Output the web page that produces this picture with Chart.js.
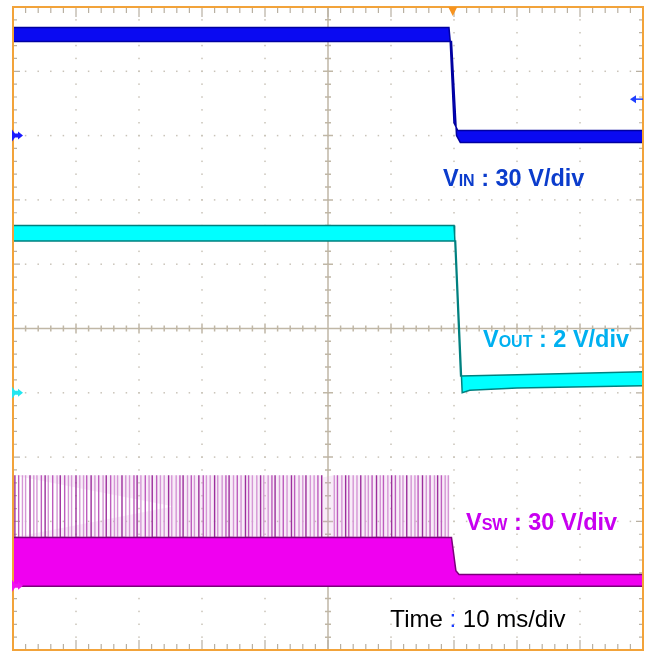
<!DOCTYPE html>
<html>
<head>
<meta charset="utf-8">
<script src="https://cdn.jsdelivr.net/npm/chart.js@4.4.1/dist/chart.umd.min.js"></script>
<style>
  html, body { margin: 0; padding: 0; background: #fff; }
  #wrap { width: 650px; height: 651px; position: relative; }
</style>
</head>
<body>
<div id="wrap"><canvas id="scope"></canvas></div>
<script>
// time axis: 10 ms/div, 10 divisions
const TIME_MIN = 0;
const TIME_MAX = 100;

// channel settings (ground marker position in divisions from centre, volts per division)
const VIN_GND = 3, VIN_VDIV = 30;
const VOUT_GND = -1, VOUT_VDIV = 2;
const VSW_GND = -4, VSW_VDIV = 30;

// trigger
const TRIG_T = 69.8;      // ms
const TRIG_LEVEL = 17;    // V on VIN

// VIN trace outline (upper edge left->right, then lower edge right->left)
const vinT = [-1, 69.2, 69.4, 70.0, 70.6, 101, 101, 71.0, 70.4, 69.6, -1];
const vinV = [50.4, 50.4, 44.0, 6.0, 2.4, 2.4, -3.2, -3.2, 0.0, 43.9, 43.9];

// VOUT trace outline
const voutT = [-1, 70.0, 70.1, 71.05, 80, 101, 101, 80, 72.5, 71.3, 70.25, -1];
const voutV = [5.20, 5.20, 4.90, 0.52, 0.56, 0.66, 0.22, 0.15, 0.08, 0.0, 4.72, 4.72];

// VSW trace outline (switching band)
const vswT = [-1, 69.6, 70.3, 70.8, 101, 101, -1];
const vswV = [22.5, 22.5, 7.0, 5.2, 5.2, -0.3, -0.3];

// VSW ringing spikes above the band
const SPIKE_BASE = 22.5;
const SPIKE_TOP = 51.5;
const spikeT = [0.3, 0.9, 1.5, 2.0, 2.7, 3.3, 3.8, 4.5, 5.1, 5.6, 6.3, 7.0, 7.5, 8.2, 8.8, 9.3,
  10.0, 10.6, 11.2, 11.7, 12.4, 13.0, 13.6, 14.3, 14.8, 15.5, 16.1, 16.6, 17.3, 17.9, 18.5, 19.2,
  19.7, 20.3, 21.0, 21.6, 22.1, 22.8, 23.4, 24.0, 24.7, 25.2, 25.9, 26.5, 27.0, 27.7, 28.3, 28.8,
  29.5, 30.2, 30.7, 31.3, 32.0, 32.5, 33.2, 33.8, 34.3, 35.0, 35.6, 36.2, 36.9, 37.4, 38.0, 38.7,
  39.3, 39.8, 40.5, 41.1, 41.6, 42.3, 42.9, 43.5, 44.2, 44.7, 45.4, 46.0, 46.5, 47.2, 47.8, 48.4,
  49.0, 51.0, 51.5, 52.2, 52.8, 53.3, 54.0, 54.6, 55.2, 55.9, 56.4, 57.0, 57.7, 58.3, 58.8, 59.5,
  60.1, 60.7, 61.4, 61.9, 62.5, 63.2, 63.8, 64.3, 65.0, 65.6, 66.2, 66.9, 67.4, 68.0, 68.6, 69.1];

// faint haze behind the spike bursts
const hazeT = [0, 49.2, 49.2, 0, 50.9, 69.3, 69.3, 50.9];
const hazeV = [SPIKE_BASE, SPIKE_BASE, SPIKE_TOP, SPIKE_TOP, SPIKE_BASE, SPIKE_BASE, SPIKE_TOP, SPIKE_TOP];

const toDiv = (v, gnd, vdiv) => gnd + v / vdiv;
const outline = (ts, vs, gnd, vdiv) => ts.map((t, i) => ({ x: t, y: toDiv(vs[i], gnd, vdiv) }));

const spikePts = [];
spikeT.forEach(t => {
  spikePts.push({ x: t, y: toDiv(SPIKE_BASE, VSW_GND, VSW_VDIV) });
  spikePts.push({ x: t, y: toDiv(SPIKE_TOP, VSW_GND, VSW_VDIV) });
  spikePts.push({ x: t, y: toDiv(SPIKE_BASE, VSW_GND, VSW_VDIV) });
});
const spikeShade = (k) => (k % 4 === 0 ? '#9c2f9c' : k % 3 === 1 ? '#bd5cbd' : '#d596d5');

const labels = [
  { t: 68.25, d: 2.22, color: '#0b3ccc', parts: [['V', 'bold 23.5px'], ['IN', 'bold 16px'], [' : 30 V/div', 'bold 23.5px']] },
  { t: 74.6, d: -0.29, color: '#00b0f0', parts: [['V', 'bold 23.5px'], ['OUT', 'bold 16px'], [' : 2 V/div', 'bold 23.5px']] },
  { t: 71.9, d: -3.13, color: '#c800f0', parts: [['V', 'bold 23.5px'], ['SW', 'bold 16px'], [' : 30 V/div', 'bold 23.5px']] },
  { t: 59.9, d: -4.64, color: '#000000', parts: [['Time ', '24px'], [':', '24px', '#1a3cff'], [' 10 ms/div', '24px']] },
];

const FONT = '"Liberation Sans", Arial, sans-serif';

const scopeScreen = {
  id: 'scopeScreen',
  beforeDatasetsDraw(chart) {
    const { ctx, chartArea: a, scales: { x, y } } = chart;
    ctx.save();
    // dotted graticule
    ctx.fillStyle = '#c9c3b8';
    for (let i = 1; i < 10; i++) {
      if (i === 5) continue;
      const px = x.getPixelForValue(i * 10);
      for (let j = 1; j < 50; j++) {
        const py = y.getPixelForValue(-5 + j * 0.2);
        ctx.fillRect(px - 0.75, py - 0.75, 1.5, 1.5);
      }
    }
    for (let i = -4; i <= 4; i++) {
      if (i === 0) continue;
      const py = y.getPixelForValue(i);
      for (let j = 1; j < 50; j++) {
        const px = x.getPixelForValue(j * 2);
        ctx.fillRect(px - 0.75, py - 0.75, 1.5, 1.5);
      }
    }
    // centre cross with ticks
    const cx = x.getPixelForValue(50), cy = y.getPixelForValue(0);
    ctx.strokeStyle = '#c0b7a6';
    ctx.lineWidth = 1.5;
    ctx.beginPath();
    ctx.moveTo(cx, a.top); ctx.lineTo(cx, a.bottom);
    ctx.moveTo(a.left, cy); ctx.lineTo(a.right, cy);
    for (let j = 1; j < 50; j++) {
      const len = j % 5 === 0 ? 5 : 3;
      const px = x.getPixelForValue(j * 2);
      ctx.moveTo(px, cy - len); ctx.lineTo(px, cy + len);
      const py = y.getPixelForValue(-5 + j * 0.2);
      ctx.moveTo(cx - len, py); ctx.lineTo(cx + len, py);
    }
    ctx.stroke();
    // ticks along the frame
    ctx.strokeStyle = '#b8b0a2';
    ctx.lineWidth = 1.2;
    ctx.beginPath();
    for (let j = 1; j < 50; j++) {
      const px = x.getPixelForValue(j * 2);
      const lx = j % 5 === 0 ? 10 : 6;
      ctx.moveTo(px, a.top); ctx.lineTo(px, a.top + lx);
      ctx.moveTo(px, a.bottom); ctx.lineTo(px, a.bottom - lx);
      const py = y.getPixelForValue(-5 + j * 0.2);
      const ly = j % 5 === 0 ? 7 : 4;
      ctx.moveTo(a.left, py); ctx.lineTo(a.left + ly, py);
      ctx.moveTo(a.right, py); ctx.lineTo(a.right - ly, py);
    }
    ctx.stroke();
    ctx.restore();
  },
  afterDatasetsDraw(chart) {
    const { ctx, chartArea: a, scales: { x, y } } = chart;
    ctx.save();
    // orange frame
    ctx.strokeStyle = '#f2a33a';
    ctx.lineWidth = 2;
    ctx.strokeRect(a.left, a.top, a.right - a.left, a.bottom - a.top);

    // ground markers
    const marker = (gnd, color) => {
      const py = y.getPixelForValue(gnd), l = a.left;
      ctx.fillStyle = color;
      ctx.beginPath();
      ctx.moveTo(l - 1, py - 6); ctx.lineTo(l + 2, py - 2); ctx.lineTo(l + 5, py - 2);
      ctx.lineTo(l + 5, py - 4); ctx.lineTo(l + 10, py); ctx.lineTo(l + 5, py + 4);
      ctx.lineTo(l + 5, py + 2); ctx.lineTo(l + 2, py + 2); ctx.lineTo(l - 1, py + 6);
      ctx.closePath();
      ctx.fill();
    };
    marker(VIN_GND, '#1a1aff');
    marker(VOUT_GND, '#22e6f0');
    marker(VSW_GND, '#f010f0');

    // trigger level arrow (right side)
    const ty = y.getPixelForValue(toDiv(TRIG_LEVEL, VIN_GND, VIN_VDIV));
    ctx.fillStyle = '#2040ff';
    ctx.strokeStyle = '#2040ff';
    ctx.lineWidth = 1.5;
    ctx.beginPath();
    ctx.moveTo(a.right - 8, ty); ctx.lineTo(a.right, ty);
    ctx.stroke();
    ctx.beginPath();
    ctx.moveTo(a.right - 13, ty); ctx.lineTo(a.right - 7, ty - 4); ctx.lineTo(a.right - 7, ty + 4);
    ctx.closePath();
    ctx.fill();

    // trigger time marker (top)
    const tx = x.getPixelForValue(TRIG_T);
    ctx.fillStyle = '#f7931e';
    ctx.beginPath();
    ctx.moveTo(tx - 4.5, a.top); ctx.lineTo(tx + 4.5, a.top); ctx.lineTo(tx, a.top + 9);
    ctx.closePath();
    ctx.fill();

    // channel / timebase labels
    ctx.textBaseline = 'alphabetic';
    ctx.textAlign = 'left';
    labels.forEach(lb => {
      let px = x.getPixelForValue(lb.t);
      const py = y.getPixelForValue(lb.d);
      lb.parts.forEach(([txt, f, c]) => {
        ctx.font = f + ' ' + FONT;
        ctx.fillStyle = c || lb.color;
        ctx.fillText(txt, px, py);
        px += ctx.measureText(txt).width;
      });
    });
    ctx.restore();
  }
};

const trace = (data, fill, edge, order) => ({
  data, backgroundColor: fill, borderColor: edge, borderWidth: 1.5,
  fill: 'shape', pointRadius: 0, tension: 0, order
});

new Chart(document.getElementById('scope'), {
  type: 'line',
  data: {
    datasets: [
      trace(outline(vinT, vinV, VIN_GND, VIN_VDIV), '#0a0af2', '#0000a0', 1),
      trace(outline(voutT, voutV, VOUT_GND, VOUT_VDIV), '#00ffff', '#00807f', 1),
      trace(outline(vswT, vswV, VSW_GND, VSW_VDIV), '#f000f0', '#7a007a', 1),
      {
        data: spikePts, borderWidth: 1.4, pointRadius: 0, tension: 0, fill: false, order: 5,
        borderColor: '#d596d5',
        segment: { borderColor: c => spikeShade(Math.floor(c.p0DataIndex / 3)) }
      },
      {
        data: outline(hazeT, hazeV, VSW_GND, VSW_VDIV), backgroundColor: 'rgba(215,150,215,0.18)',
        borderWidth: 0, borderColor: 'rgba(0,0,0,0)', fill: 'shape', pointRadius: 0, tension: 0, order: 6
      }
    ]
  },
  options: {
    responsive: true,
    maintainAspectRatio: false,
    animation: false,
    layout: { padding: { left: 13, top: 7, right: 7, bottom: 1 } },
    plugins: { legend: { display: false }, tooltip: { enabled: false } },
    scales: {
      x: { type: 'linear', min: TIME_MIN, max: TIME_MAX, display: false },
      y: { type: 'linear', min: -5, max: 5, display: false }
    }
  },
  plugins: [scopeScreen]
});
</script>
</body>
</html>
